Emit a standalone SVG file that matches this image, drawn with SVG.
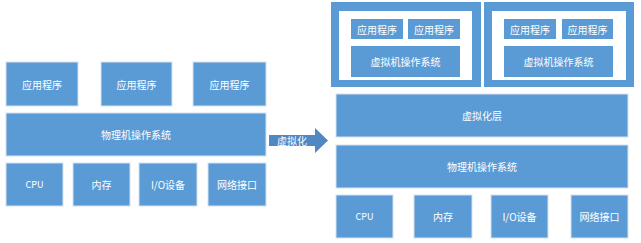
<svg xmlns="http://www.w3.org/2000/svg" width="641" height="243" viewBox="0 0 641 243">
<style>
.b{fill:#5b9bd5;stroke:#d6e2ef;stroke-width:1}
.t{fill:#ffffff;font-family:"Noto Sans CJK SC","Liberation Sans",sans-serif;font-size:10px;text-anchor:middle;dominant-baseline:central}
.s{font-size:9px}
.w{fill:#ffffff}
</style>
<rect width="641" height="243" fill="#ffffff"/>
<g id="left">
<g id="l-app1"><rect class="b" x="6" y="62" width="72" height="44"/><text class="t" x="42" y="84">应用程序</text></g>
<g id="l-app2"><rect class="b" x="101" y="62" width="71" height="44"/><text class="t" x="136.5" y="84">应用程序</text></g>
<g id="l-app3"><rect class="b" x="193" y="62" width="73" height="44"/><text class="t" x="229.5" y="84">应用程序</text></g>
<g id="l-os"><rect class="b" x="6" y="113" width="260" height="43"/><text class="t" x="136" y="134.5">物理机操作系统</text></g>
<g id="l-cpu"><rect class="b" x="6" y="163" width="57" height="43"/><text class="t s" x="34.5" y="184.5">CPU</text></g>
<g id="l-mem"><rect class="b" x="73" y="163" width="57" height="43"/><text class="t" x="101.5" y="184.5">内存</text></g>
<g id="l-io"><rect class="b" x="139" y="163" width="58" height="43"/><text class="t" x="168" y="184.5">I/O设备</text></g>
<g id="l-net"><rect class="b" x="208" y="163" width="58" height="43"/><text class="t" x="237" y="184.5">网络接口</text></g>
</g>
<g id="connectors">
<g id="arrow"><path d="M269 135 L315 135 L315 128 L328 140.5 L315 153 L315 146 L269 146 Z" fill="#4f88c3"/><text class="t" x="292" y="140.5">虚拟化</text></g>
</g>
<g id="right">
<g id="vm1">
<rect x="331" y="2" width="150" height="85" fill="#5b9bd5"/>
<rect class="w" x="339" y="11" width="133" height="69"/>
<g id="vm1-app1"><rect fill="#5b9bd5" x="351" y="19" width="52" height="20"/><text class="t" x="377" y="29">应用程序</text></g>
<g id="vm1-app2"><rect fill="#5b9bd5" x="408" y="19" width="52" height="20"/><text class="t" x="434" y="29">应用程序</text></g>
<g id="vm1-os"><rect fill="#5b9bd5" x="351" y="46" width="109" height="31"/><text class="t" x="405.5" y="61.5">虚拟机操作系统</text></g>
</g>
<g id="vm2">
<rect x="484" y="2" width="150" height="85" fill="#5b9bd5"/>
<rect class="w" x="492" y="11" width="134" height="69"/>
<g id="vm2-app1"><rect fill="#5b9bd5" x="504" y="19" width="52" height="20"/><text class="t" x="530" y="29">应用程序</text></g>
<g id="vm2-app2"><rect fill="#5b9bd5" x="562" y="19" width="51" height="20"/><text class="t" x="587.5" y="29">应用程序</text></g>
<g id="vm2-os"><rect fill="#5b9bd5" x="504" y="46" width="109" height="31"/><text class="t" x="558.5" y="61.5">虚拟机操作系统</text></g>
</g>
<g id="hv"><rect class="b" x="336" y="94" width="292" height="43"/><text class="t" x="482" y="115.5">虚拟化层</text></g>
<g id="r-os"><rect class="b" x="336" y="145" width="292" height="43"/><text class="t" x="482" y="166.5">物理机操作系统</text></g>
<g id="r-cpu"><rect class="b" x="336" y="195" width="57" height="43"/><text class="t s" x="364.5" y="216.5">CPU</text></g>
<g id="r-mem"><rect class="b" x="414" y="195" width="58" height="43"/><text class="t" x="443" y="216.5">内存</text></g>
<g id="r-io"><rect class="b" x="491" y="195" width="57" height="43"/><text class="t" x="519.5" y="216.5">I/O设备</text></g>
<g id="r-net"><rect class="b" x="571" y="195" width="57" height="43"/><text class="t" x="599.5" y="216.5">网络接口</text></g>
</g>
</svg>
